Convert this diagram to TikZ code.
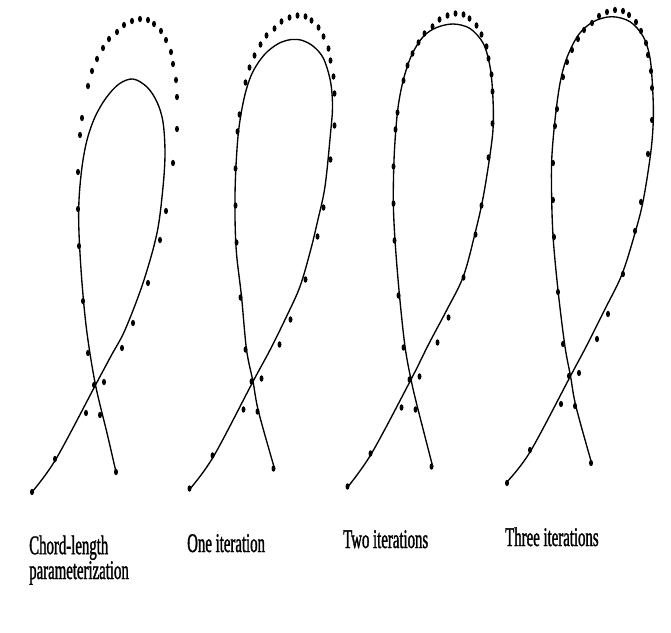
\documentclass[tikz,border=0pt]{standalone}
\usepackage{fontspec}
\newfontfamily\labelfont[FakeStretch=0.55,FakeBold=1.2]{Liberation Serif}
\usepackage{tikz}
\tikzset{
  loopcurve/.style ={line width=1.15pt,line join=round},
  datapt/.style    ={fill=black},
  caption/.style   ={anchor=base west,align=left,inner sep=0pt,
                     font=\labelfont\fontsize{23}{19.6}\selectfont},
}

\begin{document}
\begin{tikzpicture}[x=0.03cm,y=-0.03cm]
\useasboundingbox (0,0) rectangle (671,632);
% data points, the same in every panel
\foreach \dx/\dy in {0/0,157.5/-3.5,315.5/-5.5,475/-9}
  \foreach \px/\py in {32/492,55/459,86/413,104/382,122/348,133/323,148/283,
      160/240,166/211,173/163,177/129,177/97,176/80,173/64,171/52,166/40,
      161/31,154/24,148/20,140/19,132/21,124/25,117/32,109/39,103/48,97/59,
      92/71,88/86,82/118,80/135,78/172,78/209,79/246,83/301,88/353,94/385,
      100/415,116/472}
    \fill[datapt] (\px+\dx,\py+\dy) ellipse [x radius=2,y radius=3.2];
% chord-length
\draw[loopcurve] plot[smooth,tension=0.55] coordinates {
  (32,492) (56,459) (95.5,385) (111,356) (125,330) (143,283) (157,233)
  (163,187) (165,153) (163,122) (157,102) (147,87) (133,79) (119,84)
  (106,98) (95,117) (87,140) (82,167) (79,200) (79,233) (82,283) (87,333)
  (95.5,385) (107,433) (116,472)};
% one iteration
\draw[loopcurve,shift={(157.5,-3.5)}] plot[smooth,tension=0.55] coordinates {
  (32,493) (56,460) (95.5,385) (112.5,353.5) (129,320) (142.5,290) (153,254)
  (160,225) (167.5,190) (173,137) (175,110) (173,85) (166,62) (156,50)
  (145,44) (134,43) (121,47) (107,58) (95,76) (87,100) (81,135) (78,180)
  (77.5,220) (79,257) (84,300) (89,353) (95.5,385) (101,415) (117,472)};
% two iterations
\draw[loopcurve,shift={(315.5,-5.5)}] plot[smooth,tension=0.55] coordinates {
  (31,494) (56,459) (95.5,385) (113,350) (131,316) (147.8,282) (159.5,239)
  (167.8,202) (175.2,155.5) (177.8,129) (177.2,99) (174.5,72) (167.8,49)
  (154.5,34) (137.8,29.5) (121.2,33) (107.8,42) (96.2,60.5) (87.8,85.5)
  (82.2,115.5) (78.8,159) (77.8,205.5) (79.5,245.5) (83.8,299) (89.5,352)
  (95.5,385) (101.8,412) (117.2,472)};
% three iterations
\draw[loopcurve,shift={(475,-9)}] plot[smooth,tension=0.55] coordinates {
  (30.7,492.3) (55,461) (95.5,385) (112,354) (129,320) (146.7,284) (160,242)
  (168.3,209) (175.7,162) (178.3,129) (177.7,99) (175,67) (168.3,45.7)
  (155,30.7) (136.7,25.7) (118.3,30.7) (103.3,44) (91.7,67.3) (85,92.3)
  (80,129) (76.7,169) (76.7,209) (78.3,249) (83.3,302) (90,355.7)
  (95.5,385) (101,415.7) (116.7,472.3)};
% captions
\node[caption] (chordlbl) at (29,579) {Chord-length\\parameterization};
\node[caption] (onelbl)   at (187,552) {One iteration};
\node[caption] (twolbl)   at (343,548) {Two iterations};
\node[caption] (threelbl) at (505,546) {Three iterations};
\end{tikzpicture}
\end{document}
